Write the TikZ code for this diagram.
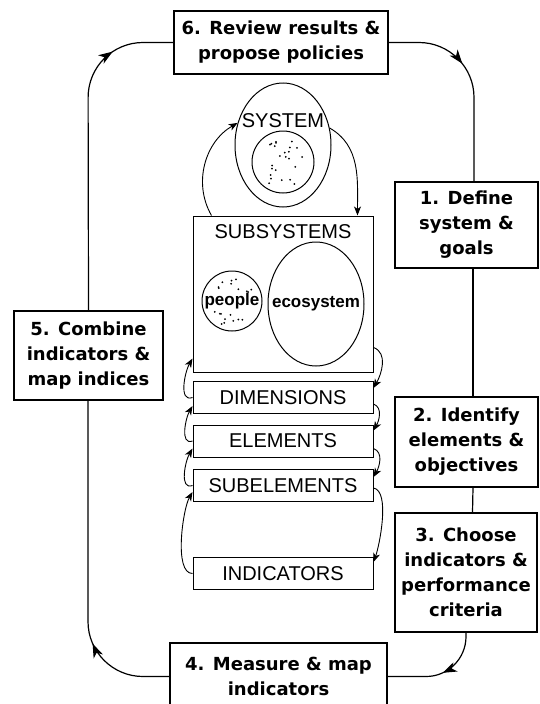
\documentclass[tikz,border=0pt]{standalone}
\usepackage{fontspec}
\setmainfont{Liberation Sans}
\newfontfamily\stagefont{DejaVu Sans}
\usetikzlibrary{arrows.meta,shapes.geometric,decorations.markings}
\tikzset{stagebox/.style={shape=rectangle, draw, line width=1.1pt, align=center, inner sep=0pt, font=\stagefont\bfseries\fontsize{18}{25}\selectfont}}
\tikzset{levelbox/.style={shape=rectangle, draw, line width=1pt, minimum width=180pt, minimum height=32pt, inner sep=0pt, font=\fontsize{20}{24}\selectfont}}
\tikzset{loopline/.style={line width=1.2pt}}
\tikzset{midarrow/.style={postaction={decorate}, decoration={markings, mark=at position #1 with {\arrow{Stealth[length=14pt,width=10pt,inset=4pt]}}}}}
\tikzset{stepdown/.style={-{Stealth[length=9pt,width=7pt,inset=2.5pt]}, line width=0.9pt}}
\tikzset{dot/.style={fill=black}}

\begin{document}
\begin{tikzpicture}[x=1pt,y=-1pt]
\useasboundingbox (0,0) rectangle (539,704);
\node[style=stagebox, minimum width=214pt, minimum height=63pt] (review) at (281,42.5) {6. Review results \&\\propose policies};
\node[style=stagebox, minimum width=143pt, minimum height=86pt] (define) at (466.5,225) {1. Define\\system \&\\goals};
\node[style=stagebox, minimum width=143pt, minimum height=90pt] (identify) at (466.5,442) {2. Identify\\elements \&\\objectives};
\node[style=stagebox, minimum width=142pt, minimum height=119pt] (choose) at (466,572.5) {3. Choose\\indicators \&\\performance\\criteria};
\node[style=stagebox, minimum width=217pt, minimum height=67pt] (measure) at (278.5,676.5) {4. Measure \& map\\indicators};
\node[style=stagebox, minimum width=149pt, minimum height=89pt] (combine) at (88.5,355.5) {5. Combine\\indicators \&\\map indices};
\coordinate (cornerNE) at (474,42.5);
\coordinate (cornerSE) at (466,676.5);
\coordinate (cornerSW) at (88,676.5);
\coordinate (cornerNW) at (88,42.5);
\draw[loopline, rounded corners=55, midarrow=0.4] (review.east) -- (cornerNE) -- ([xshift=7.5pt]define.north);
\draw[loopline] ([xshift=6.5pt]define.south) -- ([xshift=6.5pt]identify.north);
\draw[loopline] ([xshift=6.5pt]identify.south) -- ([xshift=6.5pt]choose.north);
\draw[loopline, rounded corners=40, midarrow=0.47] (choose.south) -- (cornerSE) -- (measure.east);
\draw[loopline, rounded corners=55, midarrow=0.27] (measure.west) -- (cornerSW) -- ([xshift=-0.5pt]combine.south);
\draw[loopline, rounded corners=55, midarrow=0.81] (combine.north) -- (cornerNW) -- (review.west);

\node[ellipse, draw, line width=1pt, minimum width=96pt, minimum height=124pt] (sys) at (283,145) {};
\node[font=\fontsize{20}{24}\selectfont] (syslabel) at (283,121) {SYSTEM};
\node[circle, draw, line width=1pt, minimum size=62pt, inner sep=0pt] (core) at (283,162) {};
\node[style=levelbox, minimum height=156pt] (subsys) at (283,294) {};
\node[font=\fontsize{20}{24}\selectfont] (subsyslabel) at (283,232) {SUBSYSTEMS};
\node[circle, draw, line width=1pt, minimum size=60pt, inner sep=0pt] (people) at (232,301) {};
\node[ellipse, draw, line width=1pt, minimum width=96pt, minimum height=124pt] (eco) at (316,304) {};
\pgfmathsetseed{11}
\foreach \i in {1,...,24}{
  \pgfmathsetmacro{\dotang}{360*rnd}
  \pgfmathsetmacro{\dotrad}{26*sqrt(rnd)}
  \fill[style=dot] ([shift={(\dotang:\dotrad pt)}]core.center) circle (1pt);
}
\foreach \s in {-1,1}{\foreach \i in {1,...,10}{
  \pgfmathsetmacro{\dy}{\s*(9+16*rnd)}
  \pgfmathsetmacro{\dx}{(2*rnd-1)*sqrt(26*26-\dy*\dy)}
  \fill[style=dot] ([shift={(\dx pt,\dy pt)}]people.center) circle (1pt);
}}
\node[font=\bfseries\fontsize{17}{20}\selectfont, inner sep=0pt] (peoplelabel) at (people.center) {people};
\node[font=\bfseries\fontsize{17}{20}\selectfont, inner sep=0pt] (ecolabel) at (eco.center) {ecosystem};
\node[style=levelbox] (dims) at (283,397.5) {DIMENSIONS};
\node[style=levelbox] (elems) at (283,441) {ELEMENTS};
\node[style=levelbox] (subel) at (283,485.5) {SUBELEMENTS};
\node[style=levelbox] (indic) at (283,573.5) {INDICATORS};

\draw[style=stepdown] ([xshift=19pt]subsys.north west) to[out=120,in=-150] (sys.154);
\draw[style=stepdown] (sys.20) to[out=-30,in=90] ([xshift=-16pt]subsys.north east);
\draw[style=stepdown] ([yshift=25pt]subsys.south east) to[out=-20,in=60] ([yshift=-7pt]dims.north east);
\draw[style=stepdown] ([yshift=10pt]dims.south east) to[out=-20,in=60] ([yshift=-6pt]elems.north east);
\draw[style=stepdown] ([yshift=9pt]elems.south east) to[out=-20,in=60] ([yshift=-8pt]subel.north east);
\draw[style=stepdown] ([yshift=14pt]subel.south east) to[out=-10,in=70,looseness=0.6] ([yshift=-5pt]indic.north east);
\draw[style=stepdown] (dims.west) to[out=200,in=-120] ([yshift=14pt]subsys.south west);
\draw[style=stepdown] (elems.west) to[out=200,in=-120] ([yshift=8pt]dims.south west);
\draw[style=stepdown] (subel.west) to[out=200,in=-120] ([yshift=9pt]elems.south west);
\draw[style=stepdown] (indic.west) to[out=180,in=-120,looseness=0.6] ([yshift=10pt]subel.south west);
\end{tikzpicture}
\end{document}
